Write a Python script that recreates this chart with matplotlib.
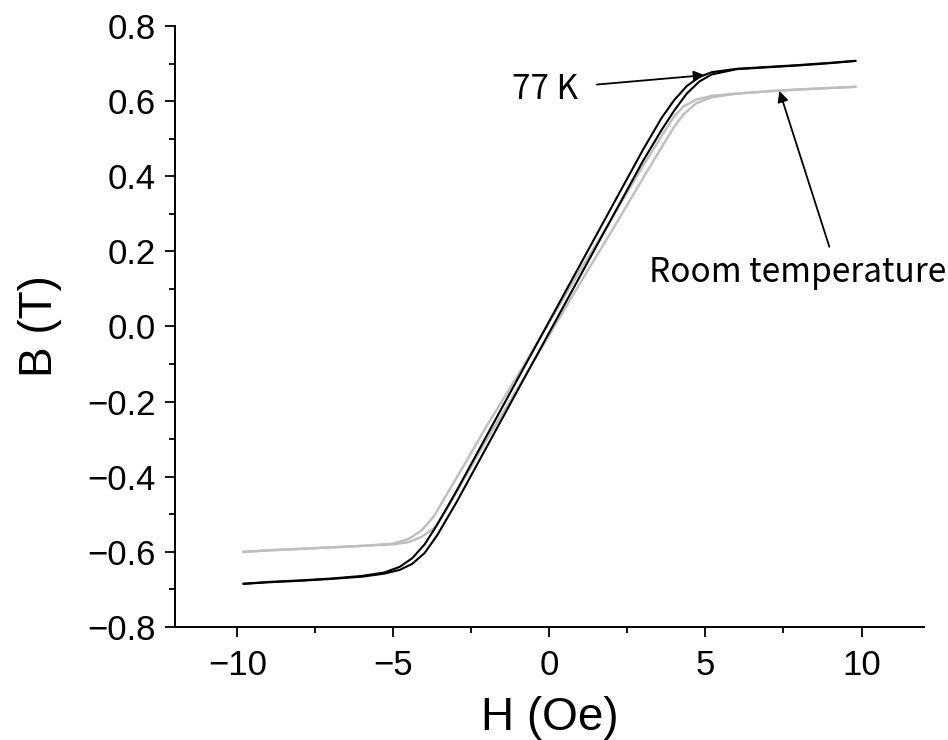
import matplotlib
matplotlib.use("Agg")
import matplotlib.pyplot as plt
from matplotlib.ticker import MultipleLocator, FuncFormatter

# B-H loops, 77 K (black) and room temperature (grey)
h_77_down = [9.8, 9.0, 8.0, 7.0, 6.0, 5.2, 4.8, 4.4, 4.0, 3.6, 3.0, 2.0, 1.0, 0.0,
             -1.0, -2.0, -3.0, -3.6, -4.0, -4.4, -4.8, -5.3, -6.0, -7.0, -8.0, -9.0, -9.8]
b_77_down = [0.707, 0.702, 0.696, 0.691, 0.686, 0.677, 0.664, 0.640, 0.603, 0.556, 0.471, 0.319,
             0.167, 0.015, -0.137, -0.289, -0.441, -0.528, -0.580, -0.617, -0.640, -0.655,
             -0.664, -0.671, -0.676, -0.680, -0.685]
h_77_up = [-9.8, -9.0, -8.0, -7.0, -6.0, -5.3, -4.8, -4.4, -4.0, -3.6, -3.0, -2.0, -1.0, 0.0,
           1.0, 2.0, 3.0, 3.6, 4.0, 4.4, 4.8, 5.2, 6.0, 7.0, 8.0, 9.0, 9.8]
b_77_up = [-0.685, -0.681, -0.677, -0.672, -0.666, -0.658, -0.648, -0.632, -0.603, -0.556,
           -0.471, -0.319, -0.167, -0.015, 0.137, 0.289, 0.441, 0.524, 0.575, 0.620, 0.652,
           0.671, 0.685, 0.690, 0.695, 0.701, 0.707]

h_rt_down = [9.8, 9.0, 8.0, 7.0, 6.0, 5.2, 4.7, 4.3, 4.0, 3.6, 3.0, 2.0, 1.0, 0.0,
             -1.0, -2.0, -2.8, -3.3, -3.7, -4.1, -4.5, -5.0, -6.0, -7.0, -8.0, -9.0, -9.8]
b_rt_down = [0.638, 0.635, 0.631, 0.626, 0.620, 0.614, 0.604, 0.586, 0.560, 0.508, 0.428,
             0.288, 0.152, 0.012, -0.128, -0.263, -0.378, -0.448, -0.505, -0.543, -0.565,
             -0.578, -0.584, -0.588, -0.592, -0.596, -0.600]
h_rt_up = [-9.8, -9.0, -8.0, -7.0, -6.0, -5.0, -4.5, -4.1, -3.7, -3.3, -2.8, -2.0, -1.0, 0.0,
           1.0, 2.0, 3.0, 3.6, 4.0, 4.3, 4.7, 5.2, 6.0, 7.0, 8.0, 9.0, 9.8]
b_rt_up = [-0.600, -0.596, -0.592, -0.588, -0.584, -0.580, -0.574, -0.560, -0.537, -0.488,
           -0.415, -0.300, -0.162, -0.022, 0.118, 0.255, 0.395, 0.478, 0.532, 0.565, 0.594,
           0.610, 0.620, 0.626, 0.631, 0.635, 0.638]

plt.rcParams["font.family"] = ["Liberation Sans", "Noto Sans CJK JP", "DejaVu Sans"]

fig = plt.figure(figsize=(9.48, 7.4), dpi=100)
ax = fig.add_axes([0.1846, 0.1527, 0.79, 0.8122])

grey = "#bebebe"
ax.plot(h_rt_down, b_rt_down, color=grey, lw=1.7, solid_joinstyle="round")
ax.plot(h_rt_up, b_rt_up, color=grey, lw=1.7, solid_joinstyle="round")
ax.plot(h_77_down, b_77_down, color="black", lw=1.5, solid_joinstyle="round")
ax.plot(h_77_up, b_77_up, color="black", lw=1.5, solid_joinstyle="round")

ax.set_xlim(-12, 12)
ax.set_ylim(-0.8, 0.8)
ax.xaxis.set_major_locator(MultipleLocator(5))
ax.xaxis.set_minor_locator(MultipleLocator(2.5))
ax.yaxis.set_major_locator(MultipleLocator(0.2))
ax.yaxis.set_minor_locator(MultipleLocator(0.1))
ax.yaxis.set_major_formatter(FuncFormatter(lambda v, p: f"{v:.1f}".replace("-", "\u2212")))
ax.xaxis.set_major_formatter(FuncFormatter(lambda v, p: f"{v:.0f}".replace("-", "\u2212")))

for side in ["top", "right"]:
    ax.spines[side].set_visible(False)
for side in ["left", "bottom"]:
    ax.spines[side].set_linewidth(1.4)

ax.tick_params(which="major", direction="out", length=7, width=1.3, labelsize=25, pad=7)
ax.tick_params(which="minor", direction="out", length=4, width=1.3)
ax.tick_params(axis="x", which="major", pad=9)

ax.set_xlabel("H (Oe)", fontsize=33, labelpad=10)
ax.set_ylabel("B (T)", fontsize=33, labelpad=18)

cjk = ["Noto Sans CJK JP", "DejaVu Sans"]
ax.annotate("77 K", xy=(4.97, 0.669), xytext=(0.9, 0.632),
            fontsize=24, family=cjk, ha="right", va="center",
            arrowprops=dict(arrowstyle="-|>", color="black", lw=1.3,
                            mutation_scale=16, shrinkA=12, shrinkB=0))
ax.text(3.2, 0.145, "Room temperature", fontsize=24, family=cjk,
        ha="left", va="center", clip_on=False)
ax.annotate("", xy=(7.37, 0.627), xytext=(8.97, 0.212),
            arrowprops=dict(arrowstyle="-|>", color="black", lw=1.3,
                            mutation_scale=16, shrinkA=0, shrinkB=0))

fig.savefig("out.png", dpi=100)
